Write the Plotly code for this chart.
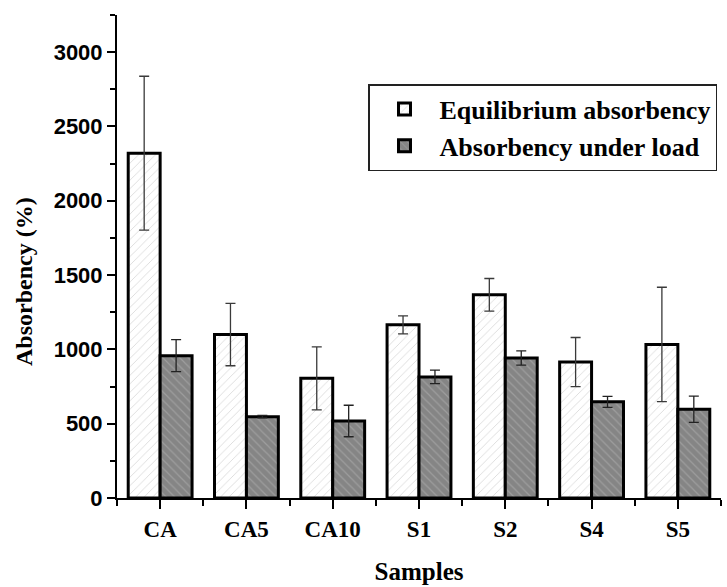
import plotly.graph_objects as go

categories = ["CA", "CA5", "CA10", "S1", "S2", "S4", "S5"]
equil = [2320, 1100, 805, 1165, 1367, 915, 1033]
equil_err = [518, 210, 212, 60, 110, 165, 385]
load = [958, 547, 518, 815, 942, 647, 597]
load_err = [108, 8, 106, 46, 48, 37, 88]
yticks = [0, 500, 1000, 1500, 2000, 2500, 3000]

xpos = list(range(len(categories)))

serif = "Liberation Serif"
sans = "Liberation Sans"

fig = go.Figure()
fig.add_trace(go.Bar(
    x=xpos, y=equil, name="Equilibrium absorbency",
    marker=dict(color="white", line=dict(color="black", width=3),
                pattern=dict(shape="/", bgcolor="white", fgcolor="#b8b8b8", size=6, solidity=0.15)),
    error_y=dict(type="data", array=equil_err, visible=True, color="#3a3a3a", thickness=1.3, width=5),
))
fig.add_trace(go.Bar(
    x=xpos, y=load, name="Absorbency under load",
    marker=dict(color="#858585", line=dict(color="black", width=3),
                pattern=dict(shape="\\", bgcolor="#858585", fgcolor="#b5b5b5", size=6, solidity=0.2)),
    error_y=dict(type="data", array=load_err, visible=True, color="#222222", thickness=1.3, width=5),
))

fig.update_layout(
    width=727, height=587,
    margin=dict(l=117, r=6, t=15, b=81),
    paper_bgcolor="white", plot_bgcolor="white",
    barmode="group", bargap=0.26, bargroupgap=0,
    showlegend=True,
    legend=dict(x=0.4156, y=0.857, xanchor="left", yanchor="top",
                bordercolor="#222222", borderwidth=1.5, bgcolor="white",
                font=dict(family=serif, size=26, color="black", weight="bold"),
                itemwidth=60, tracegroupgap=0),
    xaxis=dict(
        range=[-0.5, 6.5], tickmode="array", tickvals=xpos, ticktext=categories,
        ticks="outside", ticklen=9, tickwidth=2, tickcolor="black",
        showline=True, linecolor="black", linewidth=2, showgrid=False, zeroline=False,
        tickfont=dict(family=serif, size=23, color="black", weight="bold"),
        minor=dict(tick0=0.5, dtick=1, ticks="outside", ticklen=6, tickwidth=2, tickcolor="black", showgrid=False),
        title=dict(text="Samples", font=dict(family=serif, size=25, color="black", weight="bold"), standoff=22),
    ),
    yaxis=dict(
        range=[0, 3250], tickmode="array", tickvals=yticks,
        ticks="outside", ticklen=8, tickwidth=2, tickcolor="black",
        showline=True, linecolor="black", linewidth=2, showgrid=False, zeroline=False,
        tickfont=dict(family=sans, size=22, color="black", weight="bold"),
        minor=dict(dtick=250, tick0=0, ticks="outside", ticklen=5, tickwidth=2, tickcolor="black", showgrid=False),
    ),
    annotations=[dict(
        text="Absorbency (%)", textangle=-90, xref="paper", yref="paper",
        x=-0.155, y=0.448, xanchor="center", yanchor="middle", showarrow=False,
        font=dict(family=serif, size=24, color="black", weight="bold"),
    )],
)

fig.write_html("out.html")
